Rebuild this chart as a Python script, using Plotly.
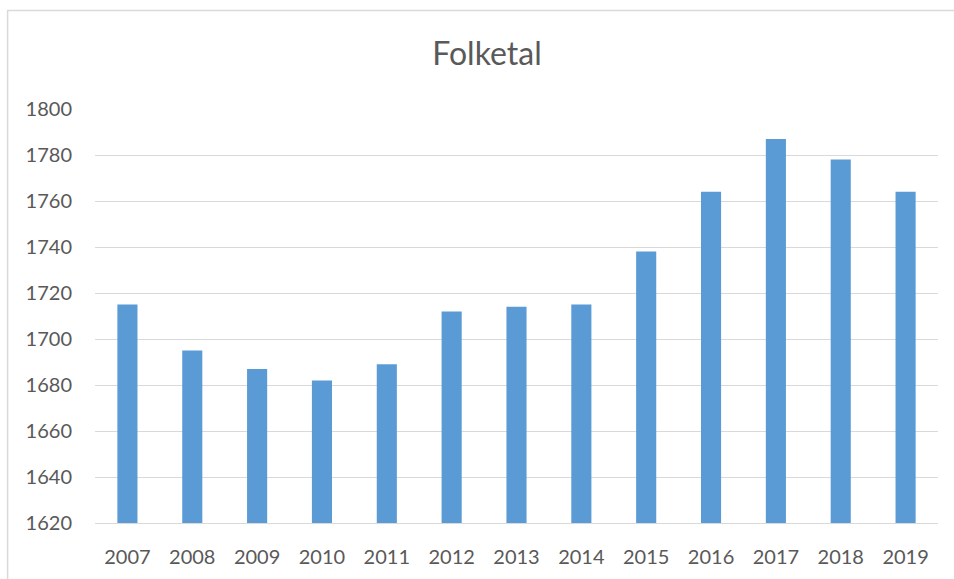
import plotly.graph_objects as go

years = ["2007", "2008", "2009", "2010", "2011", "2012", "2013",
         "2014", "2015", "2016", "2017", "2018", "2019"]
folketal = [1715, 1695, 1687, 1682, 1689, 1712, 1714, 1715, 1738, 1764, 1787, 1778, 1764]
y_ticks = [1620, 1640, 1660, 1680, 1700, 1720, 1740, 1760, 1780, 1800]

W, H = 954, 579
ml, mr, mt, mb = 94.5, 15.5, 109, 56
pw, ph = W - ml - mr, H - mt - mb

fig = go.Figure(go.Bar(x=years, y=folketal, marker_color="#5b9bd5",
                       marker_line_width=0))

font_family = "Lato, Open Sans, sans-serif"
fig.update_layout(
    width=W, height=H,
    margin=dict(l=ml, r=mr, t=mt, b=mb, pad=0),
    paper_bgcolor="white", plot_bgcolor="white",
    bargap=0.69,
    showlegend=False,
    font=dict(family=font_family, color="#595959", size=20),
    title=dict(text="Folketal", x=487 / W, xref="container",
               y=1 - 54 / H, yref="container", xanchor="center", yanchor="middle",
               font=dict(size=32, color="#595959", family=font_family)),
)
fig.update_yaxes(range=[1620, 1800], tickvals=y_ticks, showgrid=True,
                 gridcolor="#d9d9d9", gridwidth=1, zeroline=False,
                 showline=False, ticklabelstandoff=22,
                 tickfont=dict(size=20, color="#595959"))
fig.update_xaxes(showline=True, linecolor="#d9d9d9", linewidth=1,
                 showgrid=False, ticklabelstandoff=16,
                 tickfont=dict(size=20, color="#595959"))

# chart border (partially visible)
fig.add_shape(type="rect", xref="paper", yref="paper",
              x0=(7 - ml) / pw, x1=1 + 40 / pw,
              y0=-(mb + 20) / ph, y1=1 + (mt - 10.5) / ph,
              line=dict(color="#d9d9d9", width=1.5), layer="below")

fig.write_html(
    "out.html",
    config={"displayModeBar": False},
    post_script="document.body.style.margin='0';document.body.style.overflow='hidden';",
)
